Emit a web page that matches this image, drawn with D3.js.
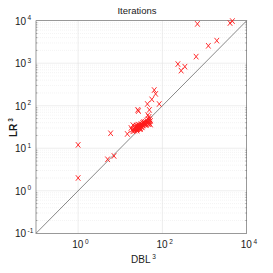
<!DOCTYPE html>
<html>
<head>
<meta charset="utf-8">
<style>
  body { margin: 0; background: #fff; }
  text { font-family: "Liberation Sans Narrow", "Liberation Sans", Arial, sans-serif; fill: #1a1a1a; }
  .grid-major { stroke: #e3e3e3; stroke-width: 0.6; }
  .grid-minor { stroke: #e8e8e8; stroke-width: 0.5; stroke-dasharray: 1,1; }
  .frame { fill: none; stroke: #555; stroke-width: 0.6; }
</style>
</head>
<body>
<svg id="chart" width="273" height="273"></svg>
<script src="https://d3js.org/d3.v7.min.js"></script>
<script>
// iteration counts
var dblIter = [1, 1, 5, 5.9, 7.1, 14.7,
  20, 21, 22, 22, 23, 24, 24, 25, 25, 26, 26, 27, 27, 28, 28, 29, 29, 30, 30, 31, 31, 32,
  33, 34, 34, 35, 36, 37, 38, 39, 40, 42, 44, 46, 48, 50, 52, 48, 45, 20, 18, 19, 50, 52,
  23, 25, 27, 30, 33, 36, 41, 47,
  26, 27, 44, 49, 56, 64, 69, 84,
  233, 278, 341, 631, 677, 1230, 1950, 4020, 4570];
var lrIter = [12, 2, 5.5, 22.5, 6.6, 21.7,
  25, 28, 30, 26, 32, 27, 34, 29, 31, 28, 33, 30, 36, 29, 32, 34, 31, 30, 35, 33, 37, 32,
  36, 34, 39, 35, 38, 40, 36, 42, 38, 45, 40, 48, 42, 38, 36, 55, 60, 35, 30, 27, 48, 44,
  29, 26, 33, 28, 31, 41, 35, 37,
  80, 75, 110, 80, 141, 234, 190, 110,
  955, 670, 830, 1430, 8400, 2570, 3400, 8800, 9800];
var xTickExp = [0, 2, 4];
var yTickExp = [-1, 0, 1, 2, 3, 4];

var m = {left: 36, right: 246.7, top: 20.7, bottom: 233.3};
var svg = d3.select("#chart");

var x = d3.scaleLog().domain([0.1, 1e4]).range([m.left, m.right]);
var y = d3.scaleLog().domain([0.1, 1e4]).range([m.bottom, m.top]);

// minor y grid
var minors = [];
for (var e = -1; e < 4; e++) {
  for (var k = 2; k < 10; k++) minors.push(k * Math.pow(10, e));
}
svg.append("g").selectAll("line").data(minors).enter().append("line")
  .attr("class", "grid-minor")
  .attr("x1", m.left).attr("x2", m.right)
  .attr("y1", function(d) { return y(d); }).attr("y2", function(d) { return y(d); });

// major grid
svg.append("g").selectAll("line").data(yTickExp.slice(1, -1)).enter().append("line")
  .attr("class", "grid-major")
  .attr("x1", m.left).attr("x2", m.right)
  .attr("y1", function(d) { return y(Math.pow(10, d)); }).attr("y2", function(d) { return y(Math.pow(10, d)); });
svg.append("g").selectAll("line").data([0, 2]).enter().append("line")
  .attr("class", "grid-major")
  .attr("y1", m.top).attr("y2", m.bottom)
  .attr("x1", function(d) { return x(Math.pow(10, d)); }).attr("x2", function(d) { return x(Math.pow(10, d)); });

// minor ticks on the y sides
svg.append("g").selectAll("line").data(minors).enter().append("line")
  .attr("stroke", "#666").attr("stroke-width", 0.5)
  .attr("x1", m.right).attr("x2", m.right - 1.5)
  .attr("y1", function(d) { return y(d); }).attr("y2", function(d) { return y(d); });
svg.append("g").selectAll("line").data(minors).enter().append("line")
  .attr("stroke", "#666").attr("stroke-width", 0.5)
  .attr("x1", m.left).attr("x2", m.left + 1.5)
  .attr("y1", function(d) { return y(d); }).attr("y2", function(d) { return y(d); });

svg.append("rect").attr("class", "frame")
  .attr("x", m.left).attr("y", m.top)
  .attr("width", m.right - m.left).attr("height", m.bottom - m.top);

// y = x reference
svg.append("line")
  .attr("x1", x(0.1)).attr("y1", y(0.1)).attr("x2", x(1e4)).attr("y2", y(1e4))
  .attr("stroke", "#555").attr("stroke-width", 0.7);

// markers
var pts = dblIter.map(function(d, i) { return [d, lrIter[i]]; });
var s = 2.3;
svg.append("g").selectAll("path").data(pts).enter().append("path")
  .attr("d", function(d) {
    var cx = x(d[0]), cy = y(d[1]);
    return "M" + (cx - s) + "," + (cy - s * 1.2) + "L" + (cx + s) + "," + (cy + s * 1.2) +
      "M" + (cx - s) + "," + (cy + s * 1.2) + "L" + (cx + s) + "," + (cy - s * 1.2);
  })
  .attr("stroke", "#ff1a1a").attr("stroke-width", 0.9).attr("fill", "none");

function powLabel(sel, exp) {
  sel.append("tspan").text("10");
  sel.append("tspan").attr("dy", -4.5).attr("font-size", 6.5).text(" " + exp);
}

svg.append("g").selectAll("text").data(yTickExp).enter().append("text")
  .attr("x", 26).attr("y", function(d) { return y(Math.pow(10, d)) + 4; })
  .attr("text-anchor", "end").attr("font-size", 10)
  .each(function(d) {
    var t = d3.select(this);
    t.append("tspan").text("10");
    t.append("tspan").attr("x", 27.5).attr("dy", -4.5).attr("font-size", 6.5).attr("text-anchor", "start").text(d);
  });

svg.append("g").selectAll("text").data(xTickExp).enter().append("text")
  .attr("x", function(d) { return x(Math.pow(10, d)) - 6; }).attr("y", 248)
  .attr("font-size", 10)
  .each(function(d) { powLabel(d3.select(this), d); });

svg.append("text").attr("x", 137).attr("y", 14).attr("text-anchor", "middle")
  .attr("font-size", 9.5).text("Iterations");

var xl = svg.append("text").attr("x", 131).attr("y", 263).attr("font-size", 10);
xl.append("tspan").text("DBL");
xl.append("tspan").attr("dy", -4.5).attr("font-size", 6.5).text(" 3");

var yl = svg.append("text").attr("transform", "translate(17,137) rotate(-90)")
  .attr("font-size", 10).attr("font-weight", "bold");
yl.append("tspan").text("LR");
yl.append("tspan").attr("dy", -4.5).attr("font-size", 6.5).text(" 3");
</script>
</body>
</html>
